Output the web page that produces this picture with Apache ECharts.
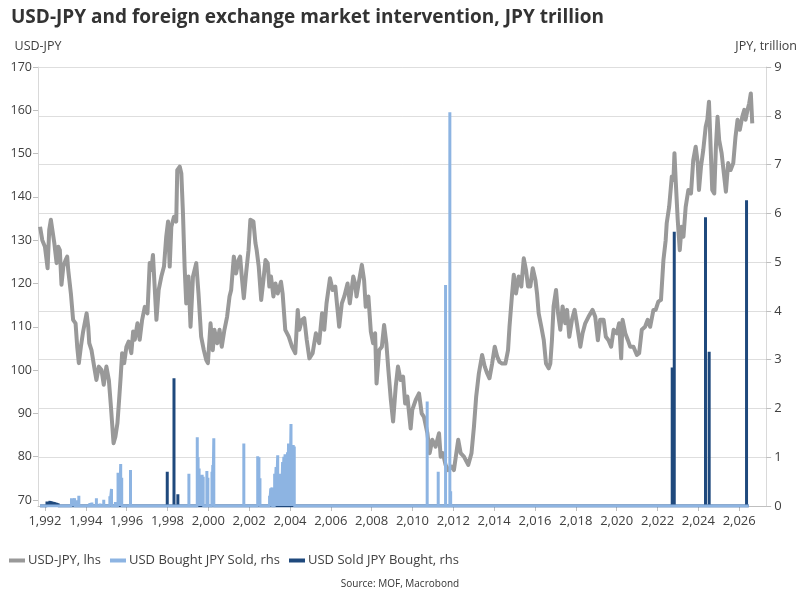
<!DOCTYPE html>
<html>
<head>
<meta charset="utf-8">
<script src="https://cdn.jsdelivr.net/npm/echarts@6/dist/echarts.min.js"></script>
<style>
  html, body { margin: 0; padding: 0; background: #fff; }
  #grafico { width: 800px; height: 600px; }
</style>
</head>
<body>
<div id="grafico"></div>
<script>
// USD-JPY, decimal years (lhs)
var fxFechas = [1991.76,1991.87,1992.00,1992.13,1992.21,1992.29,1992.36,1992.46,1992.57,1992.65,1992.73,1992.81,1992.90,1993.01,1993.09,1993.14,1993.27,1993.38,1993.50,1993.58,1993.66,1993.76,1993.87,1994.04,1994.12,1994.17,1994.28,1994.41,1994.52,1994.64,1994.77,1994.88,1995.01,1995.13,1995.22,1995.29,1995.36,1995.45,1995.55,1995.62,1995.71,1995.78,1995.88,1995.99,1996.10,1996.23,1996.32,1996.40,1996.53,1996.64,1996.76,1996.89,1997.02,1997.13,1997.21,1997.29,1997.37,1997.46,1997.57,1997.70,1997.83,1997.94,1998.03,1998.11,1998.19,1998.32,1998.43,1998.48,1998.60,1998.68,1998.76,1998.84,1998.92,1999.03,1999.13,1999.25,1999.41,1999.52,1999.65,1999.78,1999.90,1999.98,2000.11,2000.22,2000.30,2000.44,2000.55,2000.66,2000.79,2000.92,2001.04,2001.12,2001.25,2001.36,2001.48,2001.56,2001.64,2001.74,2001.85,2001.97,2002.06,2002.15,2002.21,2002.31,2002.37,2002.47,2002.59,2002.70,2002.80,2002.91,2002.99,2003.07,2003.19,2003.29,2003.40,2003.56,2003.64,2003.77,2003.94,2004.10,2004.26,2004.38,2004.46,2004.59,2004.70,2004.82,2004.95,2005.11,2005.27,2005.43,2005.57,2005.68,2005.79,2005.96,2006.09,2006.22,2006.33,2006.41,2006.54,2006.66,2006.82,2006.93,2007.10,2007.19,2007.26,2007.39,2007.52,2007.63,2007.71,2007.84,2007.96,2008.07,2008.17,2008.24,2008.37,2008.50,2008.61,2008.72,2008.82,2008.94,2009.05,2009.18,2009.29,2009.42,2009.54,2009.64,2009.75,2009.91,2009.99,2010.16,2010.32,2010.45,2010.56,2010.73,2010.84,2010.97,2011.13,2011.30,2011.38,2011.49,2011.62,2011.75,2011.92,2012.03,2012.24,2012.36,2012.52,2012.73,2012.89,2013.01,2013.12,2013.25,2013.41,2013.54,2013.66,2013.77,2013.90,2014.03,2014.15,2014.26,2014.39,2014.55,2014.68,2014.75,2014.88,2014.96,2015.07,2015.20,2015.33,2015.45,2015.56,2015.66,2015.77,2015.89,2016.02,2016.10,2016.18,2016.31,2016.43,2016.54,2016.67,2016.75,2016.83,2016.91,2017.03,2017.13,2017.24,2017.35,2017.48,2017.57,2017.68,2017.81,2017.94,2018.05,2018.22,2018.33,2018.46,2018.62,2018.82,2018.95,2019.08,2019.19,2019.36,2019.47,2019.60,2019.73,2019.85,2020.01,2020.12,2020.22,2020.29,2020.42,2020.55,2020.66,2020.82,2020.99,2021.10,2021.23,2021.39,2021.52,2021.64,2021.80,2021.91,2022.04,2022.17,2022.29,2022.40,2022.45,2022.57,2022.70,2022.78,2022.83,2022.89,2022.99,2023.09,2023.18,2023.27,2023.38,2023.51,2023.64,2023.75,2023.87,2023.97,2024.03,2024.13,2024.24,2024.36,2024.44,2024.52,2024.60,2024.68,2024.78,2024.86,2024.94,2025.02,2025.14,2025.25,2025.35,2025.46,2025.58,2025.71,2025.82,2025.92,2026.03,2026.15,2026.25,2026.31,2026.41,2026.49,2026.57,2026.64];
var fxValores = [133.1,130.0,128.5,123.5,132.4,134.7,134.3,129.3,124.7,128.5,127.7,119.7,123.9,125.4,126.2,123.1,117.7,111.6,110.8,105.4,101.6,105.4,108.9,113.1,110.0,106.2,104.6,100.8,97.7,100.8,100.0,96.6,100.8,97.7,92.3,87.7,83.1,84.6,87.7,92.3,98.5,103.9,101.6,105.4,106.6,103.9,108.9,107.0,110.8,107.0,111.6,114.6,113.1,124.7,123.1,126.6,127.0,111.6,118.5,121.6,123.9,130.8,134.3,123.9,133.1,135.4,134.3,146.2,147.0,145.4,136.2,123.9,115.4,121.6,110.0,121.6,124.7,117.7,107.7,104.6,102.3,101.6,110.8,104.6,109.3,106.2,109.3,105.4,109.3,112.3,117.0,118.5,126.2,122.3,125.4,126.2,121.6,116.6,122.3,127.7,134.7,135.0,134.3,129.3,127.7,123.9,116.2,120.8,125.4,124.7,119.3,121.6,117.0,120.0,117.7,120.4,117.7,109.3,107.7,105.4,103.9,113.9,109.3,111.6,112.0,107.0,102.7,103.9,108.5,106.2,113.1,109.3,115.4,121.2,118.5,119.3,113.9,110.0,115.4,117.0,120.0,115.4,121.6,120.0,117.0,120.8,124.3,120.8,114.6,117.0,108.9,106.2,108.5,96.9,104.6,105.4,110.4,106.2,100.0,93.1,88.1,96.2,100.8,97.7,98.5,92.3,93.9,86.5,90.8,93.1,94.6,90.0,89.2,85.4,80.8,83.9,82.3,85.4,80.0,80.8,78.1,76.9,77.7,76.9,83.9,80.8,80.0,78.1,80.8,86.9,93.9,99.2,103.5,100.8,99.2,98.1,101.5,105.4,103.1,101.9,101.5,101.5,104.6,110.0,117.7,122.0,117.7,121.6,119.3,125.8,123.1,119.3,119.3,123.5,120.8,117.7,113.1,110.0,106.9,101.5,100.4,101.5,106.9,114.7,118.5,113.1,109.3,114.7,110.8,113.9,107.7,111.6,113.9,110.8,105.4,108.5,110.8,112.3,113.9,112.3,106.9,111.6,111.6,107.7,106.9,105.4,109.3,108.5,110.8,102.7,111.6,108.5,106.9,105.4,105.4,103.5,103.9,109.3,110.0,111.6,110.0,113.9,113.9,115.8,116.2,125.4,130.0,133.9,137.7,144.7,143.9,150.1,143.9,134.7,127.7,133.1,130.8,137.7,141.6,140.8,148.5,151.6,147.8,141.6,147.0,150.8,156.2,157.8,162.0,151.6,141.6,140.8,151.6,158.5,153.1,150.1,145.4,141.2,147.8,146.2,147.8,153.9,157.8,155.5,158.5,160.1,157.8,160.1,161.6,163.9,157.0];

// USD bought / JPY sold, JPY trillion (rhs)
var compraFechas = [1993.30,1993.38,1993.45,1993.55,1993.66,1994.20,1994.30,1994.52,1994.70,1994.88,1995.18,1995.26,1995.45,1995.58,1995.66,1995.71,1995.76,1996.19,1999.05,1999.46,1999.50,1999.55,1999.62,1999.70,1999.75,1999.93,1999.98,2000.18,2000.22,2000.27,2001.74,2002.42,2002.48,2002.53,2003.00,2003.06,2003.12,2003.25,2003.32,2003.40,2003.45,2003.52,2003.58,2003.64,2003.70,2003.76,2003.82,2003.88,2003.93,2003.99,2004.05,2004.10,2004.16,2004.21,2010.72,2011.26,2011.62,2011.83,2011.87];
var compraValores = [0.16,0.14,0.16,0.12,0.21,0.06,0.07,0.16,0.05,0.13,0.20,0.35,0.08,0.68,0.45,0.86,0.58,0.74,0.66,1.41,1.00,0.77,0.40,0.64,0.60,0.72,0.58,0.70,0.84,1.39,1.28,1.02,1.00,0.57,0.21,0.36,0.38,0.66,0.80,1.04,0.66,0.66,0.66,0.90,1.01,1.06,0.94,1.10,1.28,1.28,1.68,1.15,1.25,1.22,2.14,0.70,4.53,8.07,0.30];

// USD sold / JPY bought, JPY trillion (rhs)
var ventaFechas = [1992.10,1992.17,1992.25,1992.33,1992.42,1992.50,1992.58,1992.65,1997.99,1998.32,1998.51,2022.72,2022.82,2024.35,2024.53,2026.36];
var ventaValores = [0.09,0.08,0.10,0.09,0.08,0.07,0.06,0.05,0.70,2.62,0.24,2.84,5.62,5.92,3.16,6.27];

var inicioSerie = 1991.76, finSerie = 2026.47;
var anios = [1992,1994,1996,1998,2000,2002,2004,2006,2008,2010,2012,2014,2016,2018,2020,2022,2024,2026];
var ticksIzq = [70,80,90,100,110,120,130,140,150,160,170];

function getPares(x, y){
    var retornar = [];
    x.forEach(function(item, i){ retornar.push([item, y[i]]); });
    return retornar;
}

function getPicos(fechas, valores){
    var retornar = [[inicioSerie, 0]];
    fechas.forEach(function(item, i){
        retornar.push([item, 0], [item, valores[i]], [item, 0]);
    });
    retornar.push([finSerie, 0]);
    return retornar;
}

var fuente = "Open Sans";
var gris = "#404040";

var myChart = echarts.init(document.getElementById("grafico"));
var option = {
    animation: false,
    textStyle: { fontFamily: fuente },
    title: [{
        text: "USD-JPY and foreign exchange market intervention, JPY trillion",
        left: 6, top: 3,
        textStyle: { fontSize: 19, fontWeight: "bold", color: "#333333", fontFamily: fuente }
    }, {
        text: "Source: MOF, Macrobond",
        left: "center", top: 574,
        textStyle: { fontSize: 10, fontWeight: "normal", color: "#333333", fontFamily: fuente }
    }],
    legend: {
        left: 4, top: 549,
        itemWidth: 16, itemHeight: 4, itemGap: 9,
        icon: "rect",
        textStyle: { fontSize: 13, color: gris, padding: [0, 0, 0, -2] },
        data: ["USD-JPY, lhs", "USD Bought JPY Sold, rhs", "USD Sold JPY Bought, rhs"]
    },
    grid: { left: 38, right: 32, top: 67, bottom: 94 },
    xAxis: {
        type: "value",
        min: 1991.66, max: 2027.32,
        axisLine: { lineStyle: { color: "#bfbfbf" } },
        axisTick: { show: true, length: 5, lineStyle: { color: "#bfbfbf" }, customValues: anios },
        axisLabel: { customValues: anios, fontSize: 13, color: gris, margin: 9 },
        splitLine: { show: false }
    },
    yAxis: [{
        type: "value",
        position: "left",
        min: 68.6, max: 170,
        name: "USD-JPY",
        nameGap: 14,
        nameTextStyle: { fontSize: 12.5, color: gris },
        axisLine: { show: true, lineStyle: { color: "#d9d9d9" } },
        axisTick: { show: true, length: 5, lineStyle: { color: "#bfbfbf" }, customValues: ticksIzq },
        axisLabel: { customValues: ticksIzq, fontSize: 12.5, color: gris, margin: 6 },
        splitLine: { show: false }
    }, {
        type: "value",
        position: "right",
        min: 0, max: 9, interval: 1,
        name: "JPY, trillion",
        nameGap: 14,
        nameTextStyle: { fontSize: 12.5, color: gris },
        axisLine: { show: true, lineStyle: { color: "#d9d9d9" } },
        axisTick: { show: true, length: 5, lineStyle: { color: "#bfbfbf" } },
        axisLabel: { fontSize: 13, color: gris, margin: 8 },
        splitLine: { show: true, lineStyle: { color: "#dedede" } }
    }],
    series: [{
        name: "USD-JPY, lhs",
        type: "line",
        yAxisIndex: 0,
        data: getPares(fxFechas, fxValores),
        showSymbol: false,
        color: "#999999",
        lineStyle: { width: 4, color: "#999999", join: "round" },
        z: 2
    }, {
        name: "USD Sold JPY Bought, rhs",
        type: "line",
        yAxisIndex: 1,
        data: getPicos(ventaFechas, ventaValores),
        showSymbol: false,
        color: "#1f497d",
        lineStyle: { width: 3, color: "#1f497d" },
        z: 3
    }, {
        name: "USD Bought JPY Sold, rhs",
        type: "line",
        yAxisIndex: 1,
        data: getPicos(compraFechas, compraValores),
        showSymbol: false,
        color: "#8db4e2",
        lineStyle: { width: 3, color: "#8db4e2" },
        z: 4
    }]
};
myChart.setOption(option, true);

window.addEventListener("resize", function(){
    if(myChart != null && myChart != undefined){
        myChart.resize();
    }
});
</script>
</body>
</html>
